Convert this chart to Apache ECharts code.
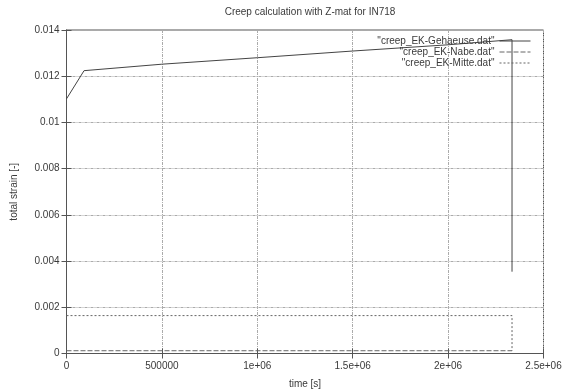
<!DOCTYPE html>
<html>
<head>
<meta charset="utf-8">
<script src="https://cdn.jsdelivr.net/npm/echarts@6/dist/echarts.min.js"></script>
<style>html,body{margin:0;padding:0;background:#fff}#c{width:564px;height:390px}</style>
</head>
<body>
<div id="c"></div>
<script>
// Data
const titleText = "Creep calculation with Z-mat for IN718";
const seriesNames = ['"creep_EK-Gehaeuse.dat"', '"creep_EK-Nabe.dat"', '"creep_EK-Mitte.dat"'];
const gehaeuseTime = [0, 92000, 500000, 1000000, 1500000, 2000000, 2335000, 2335000];
const gehaeuseStrain = [0.01102, 0.01224, 0.01252, 0.01280, 0.01309, 0.01336, 0.01358, 0.00354];
const nabeTime = [0, 2335000];
const nabeStrain = [0.00012, 0.00012];
const mitteTime = [0, 2335000, 2335000];
const mitteStrain = [0.00164, 0.00164, 0.00012];
const xTickLabels = ["0", "500000", "1e+06", "1.5e+06", "2e+06", "2.5e+06"];
const yTickLabels = ["0", "0.002", "0.004", "0.006", "0.008", "0.01", "0.012", "0.014"];

function pairs(xs, ys) { return xs.map((x, i) => [x, ys[i]]); }

const chart = echarts.init(document.getElementById('c'), null, {renderer: 'canvas'});
const font = 'Liberation Sans, Arial, sans-serif';
const ink = '#3a3a3a';
const gridLine = {show: true, lineStyle: {color: '#ababab', width: 1, type: [3, 1, 1, 1]}};

chart.setOption({
  animation: false,
  backgroundColor: '#fff',
  title: {
    text: titleText, left: 305, top: 2, textAlign: 'center',
    textStyle: {fontFamily: font, fontSize: 10, fontWeight: 'normal', color: ink}
  },
  legend: {
    orient: 'vertical', right: 33, top: 36, align: 'right',
    itemWidth: 31, itemHeight: 10, itemGap: 1, padding: 0,
    textStyle: {fontFamily: font, fontSize: 10, color: ink},
    itemStyle: {opacity: 0},
    lineStyle: {width: 1},
    data: seriesNames
  },
  grid: {left: 66.5, right: 20.5, top: 30, bottom: 36.5, show: true, borderColor: '#555', borderWidth: 1,
    containLabel: false, outerBoundsMode: 'none'},
  xAxis: [{
    type: 'value', min: 0, max: 2500000, interval: 500000,
    name: 'time [s]', nameLocation: 'middle', nameGap: 26,
    nameTextStyle: {fontFamily: font, fontSize: 10, color: ink},
    axisLine: {show: true, lineStyle: {color: '#555'}},
    axisTick: {show: true, inside: true, length: 5, lineStyle: {color: '#555'}},
    axisLabel: {fontFamily: font, fontSize: 10, color: ink, margin: 8,
      formatter: v => xTickLabels[Math.round(v / 500000)]},
    splitLine: gridLine
  }, {
    type: 'value', position: 'top', min: 0, max: 2500000, interval: 500000,
    axisLine: {show: true, lineStyle: {color: '#555'}},
    axisTick: {show: true, inside: true, length: 5, lineStyle: {color: '#555'}},
    axisLabel: {show: false}, splitLine: {show: false}
  }],
  yAxis: [{
    type: 'value', min: 0, max: 0.014, interval: 0.002,
    name: 'total strain [-]', nameLocation: 'middle', nameGap: 47, nameRotate: 90,
    nameTextStyle: {fontFamily: font, fontSize: 10, color: ink},
    axisLine: {show: true, lineStyle: {color: '#555'}},
    axisTick: {show: true, inside: true, length: 5, lineStyle: {color: '#555'}},
    axisLabel: {fontFamily: font, fontSize: 10, color: ink, margin: 7,
      formatter: v => yTickLabels[Math.round(v / 0.002)]},
    splitLine: gridLine
  }, {
    type: 'value', position: 'right', min: 0, max: 0.014, interval: 0.002,
    axisLine: {show: true, lineStyle: {color: '#555'}},
    axisTick: {show: true, inside: true, length: 5, lineStyle: {color: '#555'}},
    axisLabel: {show: false}, splitLine: {show: false}
  }],
  series: [{
    name: seriesNames[0], type: 'line', symbol: 'none', xAxisIndex: 0, yAxisIndex: 0,
    lineStyle: {color: '#444', width: 1, type: 'solid'}, itemStyle: {color: '#444'},
    data: pairs(gehaeuseTime, gehaeuseStrain)
  }, {
    name: seriesNames[1], type: 'line', symbol: 'none',
    lineStyle: {color: '#666', width: 1, type: [5, 2]}, itemStyle: {color: '#666'},
    data: pairs(nabeTime, nabeStrain)
  }, {
    name: seriesNames[2], type: 'line', symbol: 'none',
    lineStyle: {color: '#666', width: 1, type: [2, 2]}, itemStyle: {color: '#666'},
    data: pairs(mitteTime, mitteStrain)
  }]
});
</script>
</body>
</html>
